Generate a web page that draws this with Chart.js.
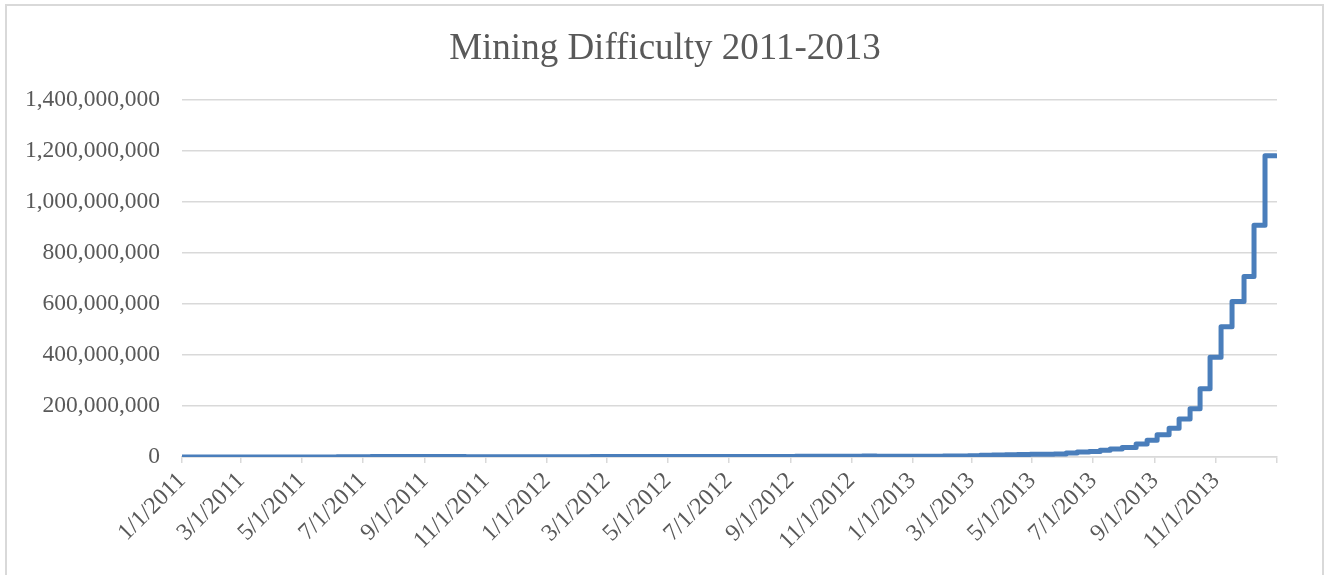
<!DOCTYPE html>
<html>
<head>
<meta charset="utf-8">
<script src="https://cdn.jsdelivr.net/npm/chart.js@4/dist/chart.umd.min.js"></script>
<style>
  html, body { margin: 0; padding: 0; background: #ffffff; }
  #wrap { position: relative; width: 1330px; height: 575px; overflow: hidden; }
  #frame { position: absolute; left: 5px; top: 4px; width: 1319px; height: 600px; border: 2px solid #d9d9d9; box-sizing: border-box; pointer-events: none; }
  canvas { position: absolute; left: 0; top: 0; }
</style>
</head>
<body>
<div id="wrap">
  <canvas id="c" width="1330" height="575"></canvas>
  <div id="frame"></div>
</div>
<script>
// ---- Data ----
const chartTitle = 'Mining Difficulty 2011-2013';

// Dates at which the difficulty changed (and the final date of the series)
const changeDates = [
  '2011-01-01','2011-01-13','2011-01-28','2011-02-11','2011-02-24','2011-03-08','2011-03-25',
  '2011-04-06','2011-04-20','2011-05-01','2011-05-12','2011-05-24','2011-06-05','2011-06-15',
  '2011-06-25','2011-07-09','2011-07-21','2011-08-04','2011-08-17','2011-08-30','2011-09-13',
  '2011-09-28','2011-10-12','2011-10-27','2011-11-11','2011-11-26','2011-12-09','2011-12-22',
  '2012-01-04','2012-01-17','2012-02-01','2012-02-14','2012-02-28','2012-03-13','2012-03-27',
  '2012-04-09','2012-04-24','2012-05-08','2012-05-21','2012-06-05','2012-06-19','2012-07-03',
  '2012-07-16','2012-07-29','2012-08-11','2012-08-24','2012-09-06','2012-09-19','2012-10-03',
  '2012-10-16','2012-10-29','2012-11-12','2012-11-26','2012-12-10','2012-12-23',
  '2013-01-08','2013-01-20','2013-02-01','2013-02-13','2013-02-26','2013-03-10','2013-03-22',
  '2013-04-04','2013-04-16','2013-04-29','2013-05-11','2013-05-23','2013-06-04','2013-06-15',
  '2013-06-27','2013-07-08','2013-07-18','2013-07-30','2013-08-13','2013-08-24','2013-09-03',
  '2013-09-15','2013-09-25','2013-10-06','2013-10-16','2013-10-26','2013-11-06','2013-11-17',
  '2013-11-29','2013-12-09','2013-12-20','2013-12-31'
];

// Difficulty value in force from each date above
const difficulty = [
  14484, 16307, 22012, 29829, 55589, 67108, 68978,
  92347, 92812, 159288, 244139, 434883, 567358, 876954,
  1379192, 1563027, 1690895, 1888786, 1805700, 1777774, 1755425,
  1689334, 1468195, 1192497, 1090715, 1159929, 1096541, 1250757,
  1376302, 1187426, 1203461, 1496042, 1498294, 1626856, 1733207,
  1626553, 1591074, 1690906, 1866536, 1862348, 1727356, 1733207,
  2036671, 1964986, 2283024, 2440643, 2694047, 2864140, 3007383,
  3079020, 3368767, 3438908, 3370181, 3275465, 3249550,
  3329000, 3368000, 3651000, 4368000, 4848000, 6696000, 7673000,
  8974000, 10076000, 11187000, 11014000, 12153000, 15605000, 19339000,
  21335000, 26162000, 31256000, 37392000, 50810000, 65750000, 86933000,
  112628000, 148819000, 189281000, 267731000, 390928000, 510929000, 609482000,
  707408000, 908350000, 1180923000, 1180923000
];

// X-axis tick labels (every two months) and the end of the axis
const xTickLabels = [
  '1/1/2011','3/1/2011','5/1/2011','7/1/2011','9/1/2011','11/1/2011',
  '1/1/2012','3/1/2012','5/1/2012','7/1/2012','9/1/2012','11/1/2012',
  '1/1/2013','3/1/2013','5/1/2013','7/1/2013','9/1/2013','11/1/2013'
];
const xAxisStart = '1/1/2011';
const xAxisEnd = '1/1/2014';

// Y-axis ticks
const yMin = 0;
const yMax = 1400000000;
const yStep = 200000000;

// ---- Helpers ----
const DAY = 86400000;
function isoToDay(s) {
  const [y, m, d] = s.split('-').map(Number);
  return Math.round(Date.UTC(y, m - 1, d) / DAY);
}
function mdyToDay(s) {
  const [m, d, y] = s.split('/').map(Number);
  return Math.round(Date.UTC(y, m - 1, d) / DAY);
}
const day0 = mdyToDay(xAxisStart);
const dayEnd = mdyToDay(xAxisEnd) - day0;

const points = changeDates.map((d, i) => ({ x: isoToDay(d) - day0, y: difficulty[i] }));
const tickMap = new Map(xTickLabels.map(l => [mdyToDay(l) - day0, l]));
const tickValues = [...tickMap.keys(), dayEnd];

const txt = '#595959';
const grid = '#d9d9d9';
const serif = "'Liberation Serif', 'Times New Roman', serif";

new Chart(document.getElementById('c'), {
  type: 'line',
  data: {
    datasets: [{
      label: 'Difficulty',
      data: points,
      borderColor: '#4A7EBB',
      backgroundColor: '#4A7EBB',
      borderWidth: 5,
      pointRadius: 0,
      pointHoverRadius: 0,
      stepped: true,
      fill: false,
      borderCapStyle: 'round',
      borderJoinStyle: 'round'
    }]
  },
  options: {
    responsive: false,
    animation: false,
    events: [],
    layout: { padding: { left: 0, right: 0, top: 0, bottom: 0 } },
    plugins: {
      legend: { display: false },
      tooltip: { enabled: false },
      title: {
        display: true,
        text: chartTitle,
        color: txt,
        font: { family: serif, size: 37, weight: 'normal', lineHeight: 1.2 },
        padding: { top: 27, bottom: 28.6 }
      }
    },
    scales: {
      x: {
        type: 'linear',
        min: 0,
        max: dayEnd,
        afterBuildTicks: axis => { axis.ticks = tickValues.map(v => ({ value: v })); },
        afterFit: axis => { axis.height = 118; },
        ticks: {
          autoSkip: false,
          maxRotation: 45,
          minRotation: 45,
          color: txt,
          padding: 4,
          font: { family: serif, size: 24 },
          callback: v => tickMap.get(v) || ''
        },
        grid: {
          drawOnChartArea: false,
          drawTicks: true,
          tickLength: 6,
          color: grid,
          lineWidth: 1.5
        },
        border: { display: true, color: grid, width: 1.5 }
      },
      y: {
        min: yMin,
        max: yMax,
        afterFit: axis => { axis.width = 182; },
        ticks: {
          stepSize: yStep,
          color: txt,
          padding: 22,
          font: { family: serif, size: 23.5 },
          callback: v => Number(v).toLocaleString('en-US')
        },
        grid: { color: grid, lineWidth: 1.5, drawTicks: false },
        border: { display: false }
      },
      rightSpace: {
        type: 'linear',
        position: 'right',
        display: true,
        afterFit: axis => { axis.width = 53; },
        ticks: { display: false },
        grid: { display: false, drawTicks: false },
        border: { display: false }
      }
    }
  }
});
</script>
</body>
</html>
